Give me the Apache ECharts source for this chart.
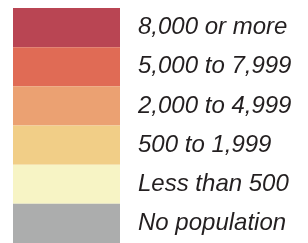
<!DOCTYPE html>
<html>
<head>
<meta charset="utf-8">
<script src="https://cdn.jsdelivr.net/npm/echarts@6/dist/echarts.min.js"></script>
<style>
  html, body { margin: 0; padding: 0; background: #fff; }
  #chart { width: 308px; height: 243px; }
</style>
</head>
<body>
<div id="chart"></div>
<script>
// legend classes, top to bottom
const classLabels = ['8,000 or more', '5,000 to 7,999', '2,000 to 4,999', '500 to 1,999', 'Less than 500', 'No population'];
const classColors = ['#b94553', '#e06b55', '#eba172', '#f1ce87', '#f7f4c5', '#acadad'];
const swatchValues = [1, 1, 1, 1, 1, 1];

const chart = echarts.init(document.getElementById('chart'));
chart.setOption({
  animation: false,
  grid: { left: 13, top: 8, width: 107, bottom: 0 },
  xAxis: { type: 'value', min: 0, max: 1, show: false },
  yAxis: {
    type: 'category',
    data: classLabels,
    inverse: true,
    position: 'right',
    axisLine: { show: false },
    axisTick: { show: false },
    splitLine: { show: false },
    axisLabel: {
      margin: 18,
      align: 'left',
      color: '#231f20',
      fontFamily: 'Liberation Sans',
      fontStyle: 'italic',
      fontSize: 24,
      padding: [3, 0, 0, 0]
    }
  },
  series: [{
    type: 'bar',
    barWidth: '100%',
    data: swatchValues.map((v, i) => ({ value: v, itemStyle: { color: classColors[i] } }))
  }]
});
</script>
</body>
</html>
